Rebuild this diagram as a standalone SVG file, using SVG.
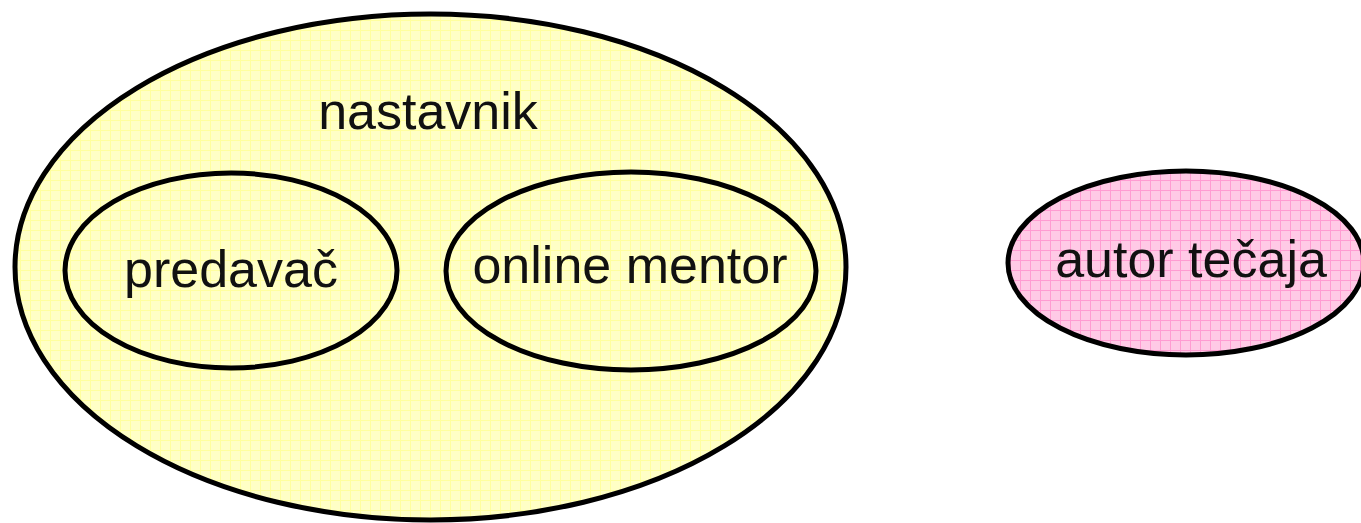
<svg xmlns="http://www.w3.org/2000/svg" width="1361" height="523" viewBox="0 0 1361 523">
  <style>
    .shape { stroke: #000; stroke-width: 5; }
    .yellow { fill: url(#gridYellow); }
    .pink { fill: url(#gridPink); }
    .label { font-family: "Liberation Sans", Arial, sans-serif; font-size: 52px; fill: #111; text-anchor: middle; }
  </style>
  <defs>
    <pattern id="gridYellow" width="10" height="10" patternUnits="userSpaceOnUse">
      <rect width="10" height="10" fill="#FFFFC6"/>
      <path d="M0 0.5H10M0.5 0V10" stroke="#FFFF9E" stroke-width="1" fill="none"/>
    </pattern>
    <pattern id="gridPink" width="10" height="10" patternUnits="userSpaceOnUse">
      <rect width="10" height="10" fill="#FFCAE6"/>
      <path d="M0 0.5H10M0.5 0V10" stroke="#FF9CD2" stroke-width="1" fill="none"/>
    </pattern>
  </defs>
  <g id="connectors"></g>
  <g id="nastavnik">
    <ellipse class="shape yellow" cx="430.5" cy="267" rx="415.5" ry="253"/>
    <text class="label" x="428" y="129">nastavnik</text>
  </g>
  <g id="predavac">
    <ellipse class="shape yellow" cx="231" cy="270.5" rx="166" ry="97.5"/>
    <text class="label" x="231" y="287">predavač</text>
  </g>
  <g id="online-mentor">
    <ellipse class="shape yellow" cx="631" cy="271" rx="185" ry="99"/>
    <text class="label" x="630" y="283">online mentor</text>
  </g>
  <g id="autor-tecaja">
    <ellipse class="shape pink" cx="1186" cy="263" rx="178" ry="92"/>
    <text class="label" x="1191" y="277">autor tečaja</text>
  </g>
</svg>
